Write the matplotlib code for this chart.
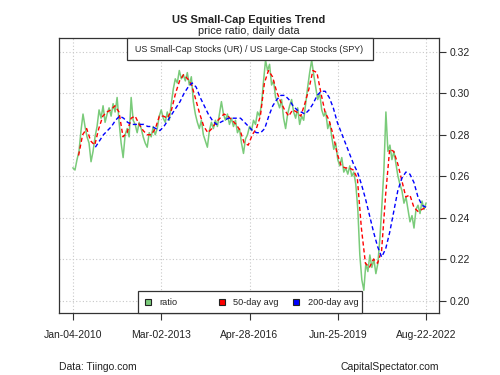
import numpy as np
import matplotlib.pyplot as plt
from matplotlib.patches import Rectangle

plt.rcParams['font.family'] = ['Liberation Sans', 'DejaVu Sans']

# trading-day index of the last observation and the dated ticks
n_days = 3156
tick_days = [0, 789, 1578, 2367, 3156]
tick_labels = ['Jan-04-2010', 'Mar-02-2013', 'Apr-28-2016', 'Jun-25-2019', 'Aug-22-2022']

# UR / SPY price ratio (roughly every 18 trading days)
ratio = [
    0.264, 0.263, 0.268, 0.272, 0.282, 0.290, 0.284, 0.279, 0.276, 0.267,
    0.272, 0.279, 0.284, 0.292, 0.288, 0.294, 0.286, 0.290, 0.293, 0.289,
    0.295, 0.291, 0.298, 0.286, 0.276, 0.269, 0.280, 0.283, 0.279, 0.298,
    0.287, 0.285, 0.281, 0.286, 0.283, 0.279, 0.276, 0.274, 0.281, 0.279,
    0.284, 0.280, 0.283, 0.289, 0.292, 0.288, 0.286, 0.291, 0.287, 0.295,
    0.302, 0.307, 0.305, 0.311, 0.307, 0.309, 0.306, 0.310, 0.304, 0.308,
    0.296, 0.290, 0.286, 0.283, 0.287, 0.280, 0.277, 0.274, 0.282, 0.286,
    0.283, 0.287, 0.284, 0.290, 0.296, 0.290, 0.287, 0.290, 0.285, 0.288,
    0.284, 0.287, 0.281, 0.283, 0.276, 0.271, 0.278, 0.280, 0.284, 0.282,
    0.287, 0.285, 0.291, 0.289, 0.295, 0.306, 0.316, 0.311, 0.314, 0.304,
    0.306, 0.298, 0.296, 0.293, 0.297, 0.288, 0.283, 0.290, 0.294, 0.297,
    0.291, 0.288, 0.293, 0.285, 0.289, 0.287, 0.295, 0.303, 0.310, 0.316,
    0.309, 0.303, 0.297, 0.300, 0.292, 0.289, 0.291, 0.283, 0.286, 0.279,
    0.273, 0.276, 0.268, 0.265, 0.269, 0.262, 0.264, 0.261, 0.265, 0.260,
    0.262, 0.256, 0.244, 0.222, 0.210, 0.205, 0.218, 0.214, 0.222, 0.216,
    0.220, 0.213, 0.218, 0.230, 0.246, 0.263, 0.291, 0.272, 0.275, 0.268,
    0.272, 0.266, 0.260, 0.256, 0.253, 0.247, 0.250, 0.244, 0.238, 0.241,
    0.235, 0.244, 0.246, 0.242, 0.248, 0.244, 0.247,
]

# 50-day moving average, sampled about every 36 trading days from day 50
ma50 = [
    0.270, 0.280, 0.283, 0.277, 0.275, 0.283, 0.289, 0.291, 0.292, 0.294,
    0.291, 0.279, 0.281, 0.288, 0.289, 0.285, 0.282, 0.280, 0.280, 0.283,
    0.289, 0.289, 0.288, 0.292, 0.300, 0.306, 0.309, 0.307, 0.304, 0.297,
    0.290, 0.284, 0.281, 0.283, 0.286, 0.288, 0.290, 0.289, 0.287, 0.285,
    0.282, 0.276, 0.275, 0.280, 0.283, 0.289, 0.305, 0.311, 0.308, 0.301,
    0.296, 0.292, 0.289, 0.292, 0.291, 0.289, 0.295, 0.302, 0.311, 0.310,
    0.300, 0.291, 0.287, 0.280, 0.271, 0.265, 0.264, 0.264, 0.263, 0.259,
    0.235, 0.218, 0.216, 0.220, 0.218, 0.224, 0.251, 0.273, 0.272, 0.266,
    0.258, 0.250, 0.251, 0.245, 0.243, 0.244, 0.245,
]

# 200-day moving average, sampled about every 36 trading days from day 200
ma200 = [
    0.274, 0.277, 0.280, 0.282, 0.284, 0.287, 0.289, 0.288, 0.286, 0.285,
    0.285, 0.285, 0.285, 0.284, 0.284, 0.283, 0.282, 0.284, 0.287, 0.290,
    0.293, 0.296, 0.300, 0.303, 0.305, 0.303, 0.298, 0.294, 0.290, 0.287,
    0.285, 0.286, 0.287, 0.288, 0.288, 0.288, 0.288, 0.286, 0.284, 0.282,
    0.281, 0.281, 0.283, 0.289, 0.294, 0.297, 0.299, 0.299, 0.297, 0.294,
    0.292, 0.291, 0.290, 0.292, 0.295, 0.299, 0.301, 0.301, 0.298, 0.293,
    0.286, 0.281, 0.276, 0.271, 0.266, 0.262, 0.256, 0.249, 0.241, 0.233,
    0.226, 0.221, 0.225, 0.233, 0.243, 0.253, 0.259, 0.262, 0.261, 0.257,
    0.250, 0.246, 0.245,
]

series_names = ['ratio', '50-day avg', '200-day avg']
green = '#7acb7a'
series_colors = [green, 'red', 'blue']

x_ratio = np.linspace(0, n_days, len(ratio))
x_50 = np.linspace(50, n_days, len(ma50))
x_200 = np.linspace(200, n_days, len(ma200))

fig = plt.figure(figsize=(5, 3.75), dpi=100)
ax = fig.add_axes([0.118, 0.1653, 0.76, 0.7334])

ax.plot(x_ratio, ratio, color=green, lw=1.1)
ax.plot(x_50, ma50, color='red', lw=1.0, ls=(0, (3, 2)))
ax.plot(x_200, ma200, color='blue', lw=1.0, ls=(0, (3, 2)))

ax.set_xlim(-125, 3272)
ax.set_ylim(0.194, 0.3267)
ax.set_xticks(tick_days)
ax.set_xticklabels(tick_labels, fontsize=7.5, color='#222222')
yt = [0.20, 0.22, 0.24, 0.26, 0.28, 0.30, 0.32]
ax.set_yticks(yt)
ax.set_yticklabels(['%.2f' % v for v in yt], fontsize=7.5, color='#222222')
ax.yaxis.tick_right()
ax.tick_params(axis='both', direction='out', length=5, width=0.8, color='#333333')
ax.tick_params(axis='x', pad=7)
ax.tick_params(axis='y', pad=3)
ax.grid(True, color='#c8c8c8', ls=(0, (1, 2)), lw=0.8)
ax.set_axisbelow(True)
for s in ax.spines.values():
    s.set_color('#333333')
    s.set_linewidth(0.9)

fig.text(0.497, 0.947, 'US Small-Cap Equities Trend', ha='center', va='center',
         fontsize=8, fontweight='bold', color='#222222')
fig.text(0.497, 0.917, 'price ratio, daily data', ha='center', va='center',
         fontsize=7.8, color='#222222')

# top label box
ax.add_patch(Rectangle((0.179, 0.92), 0.647, 0.08, transform=ax.transAxes,
                       fc='white', ec='#333333', lw=0.9, zorder=5, clip_on=False))
ax.text(0.5, 0.958, 'US Small-Cap Stocks (UR) / US Large-Cap Stocks (SPY)',
        transform=ax.transAxes, ha='center', va='center', fontsize=6.4,
        color='#222222', zorder=6)

# bottom legend box
ax.add_patch(Rectangle((0.207, 0.0), 0.59, 0.08, transform=ax.transAxes,
                       fc='white', ec='#333333', lw=0.9, zorder=5, clip_on=False))
key_x = [0.234, 0.429, 0.624]
for kx, name, col in zip(key_x, series_names, series_colors):
    ax.plot([kx], [0.04], transform=ax.transAxes, ls='none', marker='s', ms=5,
            mfc=col, mec='#222222', mew=0.8, zorder=6, clip_on=False)
    ax.text(kx + 0.03, 0.04, name, transform=ax.transAxes, ha='left', va='center',
            fontsize=6.6, color='#222222', zorder=6)

fig.text(0.118, 0.021, 'Data: Tiingo.com', ha='left', va='center', fontsize=7.5, color='#222222')
fig.text(0.878, 0.021, 'CapitalSpectator.com', ha='right', va='center', fontsize=7.5, color='#222222')

fig.savefig('out.png', dpi=100)
